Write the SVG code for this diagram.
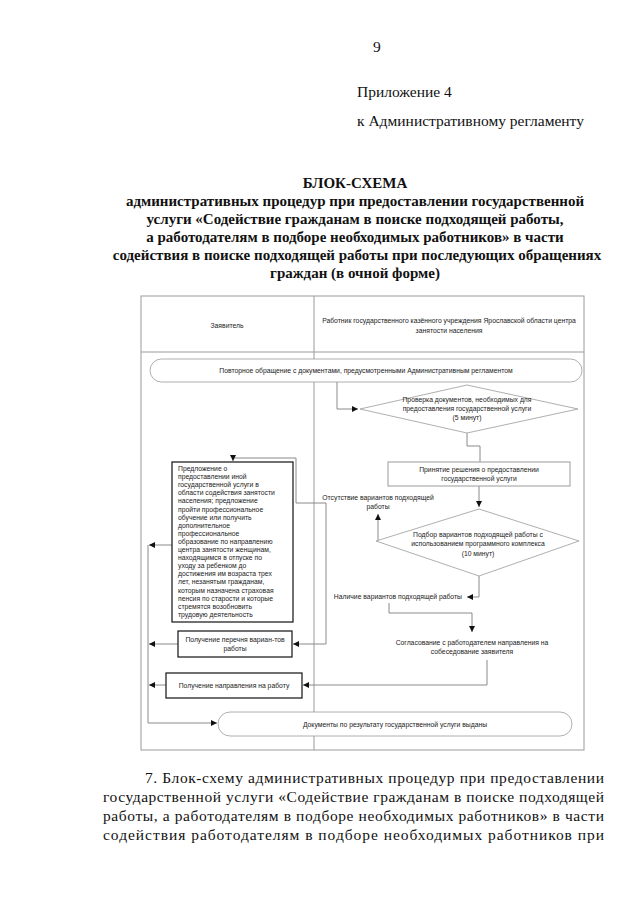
<svg xmlns="http://www.w3.org/2000/svg" width="640" height="905" viewBox="0 0 640 905">
<style>
.pg{font-family:"Liberation Serif","Times New Roman",serif;font-size:15.5px;fill:#111}
.tt{font-family:"Liberation Serif","Times New Roman",serif;font-size:15px;font-weight:bold;fill:#111;text-anchor:middle}
.t{font-family:"Liberation Sans",Arial,sans-serif;font-size:6.8px;fill:#222}
.m{text-anchor:middle}
.e{text-anchor:end}
.fr{fill:none;stroke:#9a9a9a;stroke-width:1}
.c{fill:none;stroke:#8a8a8a;stroke-width:1}
.bx{fill:#fff;stroke:#111;stroke-width:1.2}
.gb{fill:#fff;stroke:#9a9a9a;stroke-width:1}
.dm{fill:#fff;stroke:#9a9a9a;stroke-width:0.8}
</style>
<defs>
<marker id="ar" markerUnits="userSpaceOnUse" markerWidth="8" markerHeight="8" refX="6" refY="3" orient="auto">
<path d="M0,0 L6,3 L0,6 Z" fill="#111"/>
</marker>
</defs>
<rect width="640" height="905" fill="#fff"/>
<g id="page-text">
<text class="pg" x="373" y="52">9</text>
<text class="pg" x="357" y="97">Приложение 4</text>
<text class="pg" x="357" y="126">к Административному регламенту</text>
<text class="tt" x="355" y="188">БЛОК-СХЕМА</text>
<text class="tt" x="355" y="206">административных процедур при предоставлении государственной</text>
<text class="tt" x="355" y="224">услуги «Содействие гражданам в поиске подходящей работы,</text>
<text class="tt" x="355" y="242">а работодателям в подборе необходимых работников» в части</text>
<text class="tt" x="357" y="260">содействия в поиске подходящей работы при последующих обращениях</text>
<text class="tt" x="355" y="278">граждан (в очной форме)</text>
<text class="pg" x="145" y="783" textLength="459" lengthAdjust="spacing">7. Блок-схему административных процедур при предоставлении</text>
<text class="pg" x="103" y="802" textLength="501" lengthAdjust="spacing">государственной услуги «Содействие гражданам в поиске подходящей</text>
<text class="pg" x="103" y="821" textLength="501" lengthAdjust="spacing">работы, а работодателям в подборе необходимых работников» в части</text>
<text class="pg" x="103" y="840" textLength="501" lengthAdjust="spacing">содействия работодателям в подборе необходимых работников при</text>
</g>
<g id="frame">
<rect class="fr" x="141" y="296" width="443" height="454"/>
<line class="fr" x1="141" y1="352" x2="584" y2="352"/>
<line class="fr" x1="314" y1="296" x2="314" y2="750"/>
</g>
<g id="lane-applicant"><text class="t m" x="227" y="328">Заявитель</text></g>
<g id="lane-worker">
<text class="t m" x="449" y="323">Работник государственного казённого учреждения Ярославской области центра</text>
<text class="t m" x="449" y="333">занятости населения</text>
</g>
<g id="connectors">
<path class="c" d="M337,382 V409 H358" marker-end="url(#ar)"/>
<path class="c" d="M467,433 V446 H480 V462"/>
<path class="c" d="M479,486 V507" marker-end="url(#ar)"/>
<path class="c" d="M378,541 V514" marker-end="url(#ar)"/>
<path class="c" d="M479,576 V597 H467" marker-end="url(#ar)"/>
<path class="c" d="M389,603 V613 H472 V632" marker-end="url(#ar)"/>
<path class="c" d="M487,660 V685 H303" marker-end="url(#ar)"/>
<path class="c" d="M326,503 H296 V458 H233 V461" marker-end="url(#ar)"/>
<path class="c" d="M326,503 V644 H293" marker-end="url(#ar)"/>
<path class="c" d="M172,545 H149" marker-end="url(#ar)"/>
<path class="c" d="M178,644 H149" marker-end="url(#ar)"/>
<path class="c" d="M166,685 H149" marker-end="url(#ar)"/>
<path class="c" d="M148,545 V723 H217" marker-end="url(#ar)"/>
</g>
<g id="start">
<rect class="dm" x="150" y="359" width="432" height="23" rx="11.5"/>
<text class="t m" x="366" y="372.5">Повторное обращение с документами, предусмотренными Административным регламентом</text>
</g>
<g id="check-docs">
<polygon class="dm" points="360,409 467,385 578,409 467,433"/>
<text class="t m" x="467" y="402">Проверка документов, необходимых для</text>
<text class="t m" x="467" y="411">предоставления государственной услуги</text>
<text class="t m" x="467" y="420">(5 минут)</text>
</g>
<g id="decision">
<rect class="gb" x="388" y="462" width="182" height="24"/>
<text class="t m" x="479" y="472">Принятие решения о предоставлении</text>
<text class="t m" x="479" y="481">государственной услуги</text>
</g>
<g id="select">
<polygon class="dm" points="376,541 479,509 579,541 479,576"/>
<text class="t m" x="478" y="537">Подбор вариантов подходящей работы с</text>
<text class="t m" x="478" y="546">использованием программного комплекса</text>
<text class="t m" x="478" y="556">(10 минут)</text>
</g>
<g id="no-options">
<text class="t m" x="378" y="500">Отсутствие вариантов подходящей</text>
<text class="t m" x="378" y="509">работы</text>
</g>
<g id="has-options"><text class="t e" x="462" y="599">Наличие вариантов подходящей работы</text></g>
<g id="agree">
<text class="t m" x="472" y="645">Согласование с работодателем направления на</text>
<text class="t m" x="472" y="654">собеседование заявителя</text>
</g>
<g id="offer">
<rect class="bx" x="172" y="462" width="121" height="160"/>
<text class="t" x="178" y="471">Предложение о</text>
<text class="t" x="178" y="479.1">предоставлении иной</text>
<text class="t" x="178" y="487.2">государственной услуги в</text>
<text class="t" x="178" y="495.3">области содействия занятости</text>
<text class="t" x="178" y="503.4">населения; предложение</text>
<text class="t" x="178" y="511.5">пройти профессиональное</text>
<text class="t" x="178" y="519.6">обучение или получить</text>
<text class="t" x="178" y="527.7">дополнительное</text>
<text class="t" x="178" y="535.8">профессиональное</text>
<text class="t" x="178" y="543.9">образование по направлению</text>
<text class="t" x="178" y="552">центра занятости женщинам,</text>
<text class="t" x="178" y="560.1">находящимся в отпуске по</text>
<text class="t" x="178" y="568.2">уходу за ребенком до</text>
<text class="t" x="178" y="576.3">достижения им возраста трех</text>
<text class="t" x="178" y="584.4">лет, незанятым гражданам,</text>
<text class="t" x="178" y="592.5">которым назначена страховая</text>
<text class="t" x="178" y="600.6">пенсия по старости и которые</text>
<text class="t" x="178" y="608.7">стремятся возобновить</text>
<text class="t" x="178" y="616.8">трудовую деятельность</text>
</g>
<g id="list">
<rect class="bx" x="178" y="631" width="114" height="26"/>
<text class="t m" x="235" y="642">Получение перечня вариан-тов</text>
<text class="t m" x="235" y="651">работы</text>
</g>
<g id="referral">
<rect class="bx" x="166" y="673" width="136" height="25"/>
<text class="t m" x="234" y="688">Получение направления на работу</text>
</g>
<g id="end">
<rect class="dm" x="218" y="712" width="354" height="24" rx="12"/>
<text class="t m" x="395" y="726.5">Документы по результату государственной  услуги выданы</text>
</g>
</svg>
